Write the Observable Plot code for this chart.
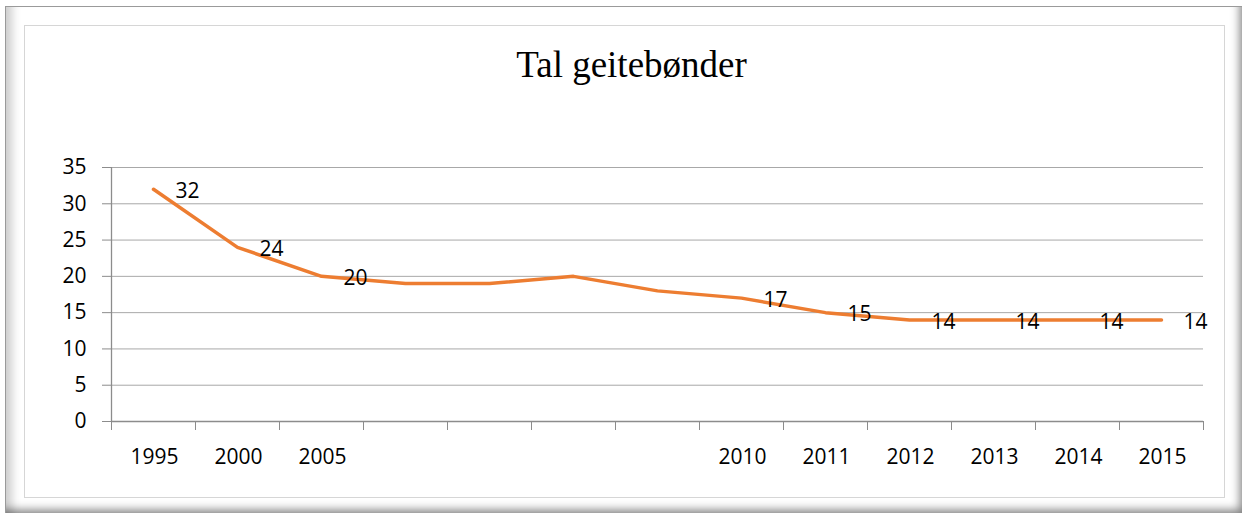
<!DOCTYPE html>
<html>
<head>
<meta charset="utf-8">
<script src="https://cdn.jsdelivr.net/npm/d3@7"></script>
<script src="https://cdn.jsdelivr.net/npm/@observablehq/plot@0.6"></script>
<style>
  html, body { margin: 0; padding: 0; background: #fff; }
  #page { position: relative; width: 1242px; height: 513px; overflow: hidden; background: #fff; }
  .outer {
    position: absolute; left: 5px; top: 6px; width: 1245px; height: 515px;
    box-sizing: border-box; border: 1px solid #9a9a9a; background: #fff;
    box-shadow: inset -17px -18px 10px -8px rgba(0,0,0,0.5),
                inset 14px 0 10px -8px rgba(0,0,0,0.2);
  }
  .inner {
    position: absolute; left: 24px; top: 25px; width: 1201px; height: 473px;
    box-sizing: border-box; border: 1px solid #d6d6d6; background: #fff;
  }
  #chart { position: absolute; left: 0; top: 0; }
  #chart svg { background: transparent; }
</style>
</head>
<body>
<div id="page">
  <div class="outer"></div>
  <div class="inner"></div>
  <div id="chart"></div>
</div>
<script>
const title = "Tal geitebønder";
const categories = ["1995", "2000", "2005", "", "", "", "", "2010", "2011", "2012", "2013", "2014", "2015"];
const values = [32, 24, 20, 19, 19, 20, 18, 17, 15, 14, 14, 14, 14];
const pointLabels = ["32", "24", "20", "", "", "", "", "17", "15", "14", "14", "14", "14"];
const yTicks = [0, 5, 10, 15, 20, 25, 30, 35];

const data = values.map((v, i) => ({i, x: i + 0.5, v, label: pointLabels[i], cat: categories[i]}));
const n = categories.length;
const font = "'Open Sans', sans-serif";
const fs = 21;
const ls = "1.1px";

const chart = Plot.plot({
  width: 1242,
  height: 513,
  marginLeft: 111,
  marginRight: 39,
  marginTop: 167,
  marginBottom: 92,
  style: {background: "transparent", fontFamily: font, fontSize: fs + "px", color: "#000", overflow: "visible"},
  x: {type: "linear", domain: [0, n], axis: null},
  y: {domain: [0, 35], axis: null},
  marks: [
    Plot.gridY(yTicks, {stroke: "#a8a8a8", strokeOpacity: 1, strokeWidth: 1}),
    Plot.axisY(yTicks, {label: null, tickSize: 9, tickPadding: 16, stroke: "#8c8c8c", fill: "#000", fontSize: fs, letterSpacing: ls}),
    Plot.ruleX([0], {stroke: "#8c8c8c", strokeWidth: 1.3}),
    Plot.ruleY([0], {stroke: "#8c8c8c", strokeWidth: 1.3}),
    Plot.axisX(d3.range(0, n + 1), {label: null, tickSize: 9, tickFormat: () => "", stroke: "#8c8c8c"}),
    Plot.axisX(data.map(d => d.x), {label: null, tickSize: 0, tickPadding: 28, dx: 1, tickFormat: x => categories[Math.floor(x)], fill: "#000", fontSize: fs, letterSpacing: ls}),
    Plot.line(data, {x: "x", y: "v", stroke: "#ED7D31", strokeWidth: 3.5, strokeLinejoin: "round"}),
    Plot.text(data.filter(d => d.label !== ""), {x: "x", y: "v", text: "label", textAnchor: "start", dx: 22, dy: 2, fill: "#000", fontSize: fs, letterSpacing: ls})
  ]
});

d3.select(chart).append("text")
  .attr("x", 631.5).attr("y", 77)
  .attr("text-anchor", "middle")
  .style("font-family", "'Liberation Serif', 'Times New Roman', serif")
  .style("font-size", "37px")
  .attr("fill", "#000")
  .text(title);

document.getElementById("chart").appendChild(chart);
</script>
</body>
</html>
